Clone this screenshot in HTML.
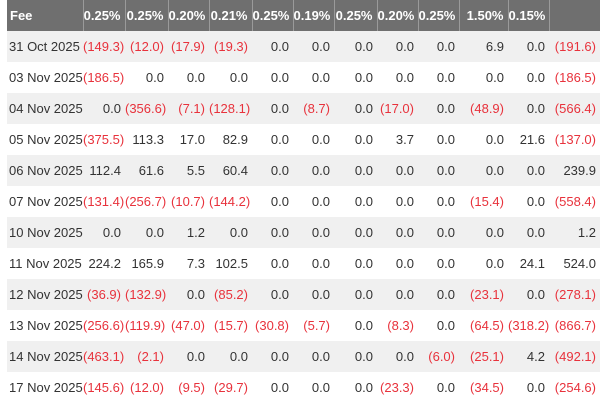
<!DOCTYPE html>
<html><head><style>
body{margin:0;width:600px;height:400px;overflow:hidden;background:#fff;font-family:"Liberation Sans",sans-serif;}
table{position:absolute;left:7px;top:0;width:593px;border-collapse:collapse;table-layout:fixed;font-size:13px;color:#333;}
td,th{height:31px;padding:0 4px 0 0;text-align:right;white-space:nowrap;overflow:visible;}
th{background:#6f6f6f;color:#fff;font-weight:bold;border-left:1px solid #9a9a9a;}
th:first-child{text-align:left;padding-left:3px;border-left:none}
td:first-child{text-align:left;padding-left:2px}
tr.g td{background:#f0f0f0}
.n{color:#e8323c}
</style></head><body>
<table>
<colgroup><col style="width:76px"><col style="width:42px"><col style="width:43px"><col style="width:41px"><col style="width:43px"><col style="width:41px"><col style="width:41px"><col style="width:43px"><col style="width:41px"><col style="width:41px"><col style="width:49px"><col style="width:41px"><col style="width:51px"></colgroup>
<tr><th>Fee</th><th>0.25%</th><th>0.25%</th><th>0.20%</th><th>0.21%</th><th>0.25%</th><th>0.19%</th><th>0.25%</th><th>0.20%</th><th>0.25%</th><th>1.50%</th><th>0.15%</th><th></th></tr>
<tr class="g"><td>31 Oct 2025</td><td class="n">(149.3)</td><td class="n">(12.0)</td><td class="n">(17.9)</td><td class="n">(19.3)</td><td>0.0</td><td>0.0</td><td>0.0</td><td>0.0</td><td>0.0</td><td>6.9</td><td>0.0</td><td class="n">(191.6)</td></tr>
<tr><td>03 Nov 2025</td><td class="n">(186.5)</td><td>0.0</td><td>0.0</td><td>0.0</td><td>0.0</td><td>0.0</td><td>0.0</td><td>0.0</td><td>0.0</td><td>0.0</td><td>0.0</td><td class="n">(186.5)</td></tr>
<tr class="g"><td>04 Nov 2025</td><td>0.0</td><td class="n">(356.6)</td><td class="n">(7.1)</td><td class="n">(128.1)</td><td>0.0</td><td class="n">(8.7)</td><td>0.0</td><td class="n">(17.0)</td><td>0.0</td><td class="n">(48.9)</td><td>0.0</td><td class="n">(566.4)</td></tr>
<tr><td>05 Nov 2025</td><td class="n">(375.5)</td><td>113.3</td><td>17.0</td><td>82.9</td><td>0.0</td><td>0.0</td><td>0.0</td><td>3.7</td><td>0.0</td><td>0.0</td><td>21.6</td><td class="n">(137.0)</td></tr>
<tr class="g"><td>06 Nov 2025</td><td>112.4</td><td>61.6</td><td>5.5</td><td>60.4</td><td>0.0</td><td>0.0</td><td>0.0</td><td>0.0</td><td>0.0</td><td>0.0</td><td>0.0</td><td>239.9</td></tr>
<tr><td>07 Nov 2025</td><td class="n">(131.4)</td><td class="n">(256.7)</td><td class="n">(10.7)</td><td class="n">(144.2)</td><td>0.0</td><td>0.0</td><td>0.0</td><td>0.0</td><td>0.0</td><td class="n">(15.4)</td><td>0.0</td><td class="n">(558.4)</td></tr>
<tr class="g"><td>10 Nov 2025</td><td>0.0</td><td>0.0</td><td>1.2</td><td>0.0</td><td>0.0</td><td>0.0</td><td>0.0</td><td>0.0</td><td>0.0</td><td>0.0</td><td>0.0</td><td>1.2</td></tr>
<tr><td>11 Nov 2025</td><td>224.2</td><td>165.9</td><td>7.3</td><td>102.5</td><td>0.0</td><td>0.0</td><td>0.0</td><td>0.0</td><td>0.0</td><td>0.0</td><td>24.1</td><td>524.0</td></tr>
<tr class="g"><td>12 Nov 2025</td><td class="n">(36.9)</td><td class="n">(132.9)</td><td>0.0</td><td class="n">(85.2)</td><td>0.0</td><td>0.0</td><td>0.0</td><td>0.0</td><td>0.0</td><td class="n">(23.1)</td><td>0.0</td><td class="n">(278.1)</td></tr>
<tr><td>13 Nov 2025</td><td class="n">(256.6)</td><td class="n">(119.9)</td><td class="n">(47.0)</td><td class="n">(15.7)</td><td class="n">(30.8)</td><td class="n">(5.7)</td><td>0.0</td><td class="n">(8.3)</td><td>0.0</td><td class="n">(64.5)</td><td class="n">(318.2)</td><td class="n">(866.7)</td></tr>
<tr class="g"><td>14 Nov 2025</td><td class="n">(463.1)</td><td class="n">(2.1)</td><td>0.0</td><td>0.0</td><td>0.0</td><td>0.0</td><td>0.0</td><td>0.0</td><td class="n">(6.0)</td><td class="n">(25.1)</td><td>4.2</td><td class="n">(492.1)</td></tr>
<tr><td>17 Nov 2025</td><td class="n">(145.6)</td><td class="n">(12.0)</td><td class="n">(9.5)</td><td class="n">(29.7)</td><td>0.0</td><td>0.0</td><td>0.0</td><td class="n">(23.3)</td><td>0.0</td><td class="n">(34.5)</td><td>0.0</td><td class="n">(254.6)</td></tr>
</table>
</body></html>
